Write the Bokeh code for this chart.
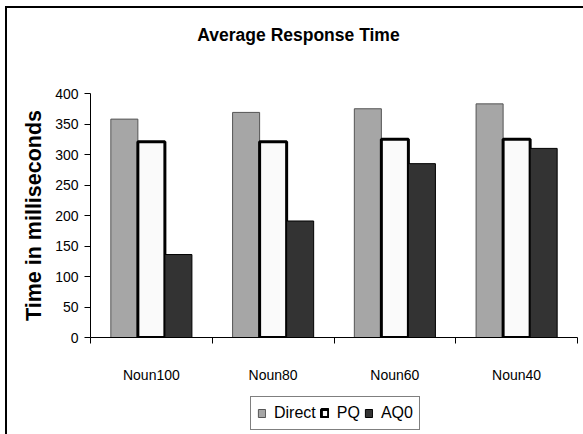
from bokeh.plotting import figure
from bokeh.layouts import column
from bokeh.models import Range1d, FixedTicker, Legend, LegendItem, ColumnDataSource, Label
from bokeh.transform import dodge
from bokeh.embed import file_html
from bokeh.resources import INLINE

# ---- data ----
categories = ["Noun100", "Noun80", "Noun60", "Noun40"]
direct = [358, 369, 375, 383]
pq = [321, 321, 325, 325]
aq0 = [136, 191, 285, 310]
series_names = ["Direct", "PQ", "AQ0"]
y_ticks = [0, 50, 100, 150, 200, 250, 300, 350, 400]
title_text = "Average Response Time"

centers = [i + 0.5 for i in range(len(categories))]
bounds = list(range(len(categories) + 1))

src = ColumnDataSource(data=dict(x=centers, direct=direct, pq=pq, aq0=aq0))

FONT = "Liberation Sans"
STYLES = [
    dict(fill_color="#A6A6A6", line_color="#555555", line_width=1),
    dict(fill_color="#FAFAFA", line_color="black", line_width=3),
    dict(fill_color="#333333", line_color="black", line_width=1),
]
FIELDS = ["direct", "pq", "aq0"]
BL, BR = 83, 6          # left / right borders of every strip (pixels)
FW = 576 - BL - BR      # frame width


def strip(height):
    f = figure(width=576, height=height, title=None,
               x_range=Range1d(0, FW), y_range=Range1d(0, height),
               output_backend="svg", toolbar_location=None,
               x_axis_location=None, y_axis_location=None,
               min_border_left=BL, min_border_right=BR,
               min_border_top=0, min_border_bottom=0)
    f.outline_line_color = None
    f.xgrid.visible = False
    f.ygrid.visible = False
    f.background_fill_color = "white"
    f.border_fill_color = "white"
    return f


# ---- title strip ----
top = strip(75)
top.add_layout(Label(x=208, y=48.5, text=title_text, text_align="center",
                     text_baseline="alphabetic", text_font=FONT,
                     text_font_size="17.5px", text_font_style="bold",
                     text_color="black"))

# ---- main chart ----
p = figure(width=576, height=309, title=None,
           x_range=Range1d(0, len(categories)), y_range=Range1d(0, 400),
           output_backend="svg", toolbar_location=None,
           min_border_left=BL, min_border_right=BR,
           min_border_top=10, min_border_bottom=55)
p.background_fill_color = "white"
p.border_fill_color = "white"
p.outline_line_color = None
p.xgrid.visible = False
p.ygrid.visible = False

W = 0.222
renderers = []
for off, fld, st in zip([-W, 0, W], FIELDS, STYLES):
    renderers.append(p.vbar(x=dodge("x", off, range=p.x_range), top=fld, width=W,
                            source=src, **st))

xa = p.xaxis[0]
ya = p.yaxis[0]

xa.ticker = FixedTicker(ticks=centers, minor_ticks=bounds)
xa.major_label_overrides = {c: n for c, n in zip(centers, categories)}
xa.major_tick_out = 0
xa.major_tick_in = 0
xa.minor_tick_out = 6
xa.minor_tick_in = 0
xa.minor_tick_line_color = "black"
xa.axis_line_color = "black"
xa.major_label_standoff = 23
xa.major_label_text_font = FONT
xa.major_label_text_font_size = "14px"
xa.major_label_text_color = "black"

ya.ticker = FixedTicker(ticks=y_ticks)
ya.major_tick_out = 6
ya.major_tick_in = 0
ya.minor_tick_out = 0
ya.minor_tick_in = 0
ya.axis_line_color = "black"
ya.major_tick_line_color = "black"
ya.major_label_standoff = 6
ya.major_label_text_font = FONT
ya.major_label_text_font_size = "14px"
ya.major_label_text_color = "black"
ya.axis_label = "Time in milliseconds"
ya.axis_label_text_font = FONT
ya.axis_label_text_font_size = "21.5px"
ya.axis_label_text_font_style = "bold"
ya.axis_label_text_color = "black"
ya.axis_label_standoff = 6

# ---- legend strip ----
lg = strip(42)
lg.x_range = Range1d(0, len(categories))
lg.y_range = Range1d(1000, 1042)    # proxy bars for the legend fall below the view
items = []
for name, fld, st in zip(series_names, FIELDS, STYLES):
    rr = lg.vbar(x="x", top=fld, width=0.1, source=src, **st)
    rr.visible = False              # only its legend swatch is wanted
    items.append(LegendItem(label=name, renderers=[rr]))

legend = Legend(items=items, orientation="horizontal", location=(160, 4),
                click_policy="none",
                inactive_fill_alpha=0,
                border_line_color="black", border_line_width=1,
                background_fill_color="white", background_fill_alpha=1,
                padding=6, spacing=4, label_standoff=8, margin=0,
                glyph_width=9, glyph_height=10, label_height=20,
                label_text_font=FONT, label_text_font_size="16px",
                label_text_color="black")
lg.add_layout(legend)

page = column(top, p, lg, spacing=0)
page.styles = {"border-top": "2px solid black", "border-left": "2px solid black"}
page.margin = (6, 0, 0, 5)

open("out.html", "w").write(file_html(page, INLINE))
